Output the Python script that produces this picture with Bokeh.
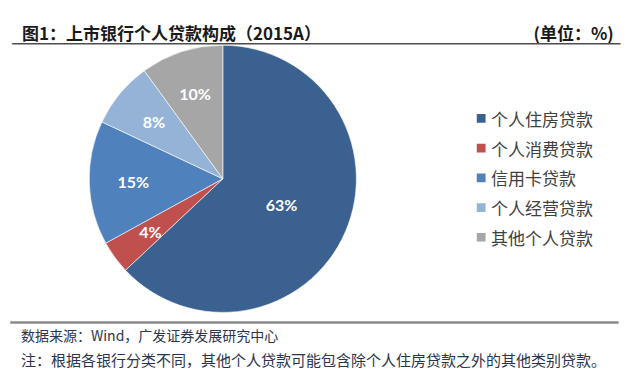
import math
from bokeh.plotting import figure
from bokeh.models import ColumnDataSource, Range1d
from bokeh.core.properties import value
from bokeh.embed import file_html
from bokeh.resources import INLINE

# ---- data ----
categories = ["个人住房贷款", "个人消费贷款", "信用卡贷款", "个人经营贷款", "其他个人贷款"]
shares = [63, 4, 15, 8, 10]
colors = ["#3B6191", "#C0504D", "#4F81BD", "#95B3D7", "#A6A6A6"]
title_text = "图1：上市银行个人贷款构成（2015A）"
unit_text = "(单位：%)"
source_text = "数据来源：Wind，广发证券发展研究中心"
note_text = "注：根据各银行分类不同，其他个人贷款可能包含除个人住房贷款之外的其他类别贷款。"

W, H = 624, 371
RW, RH = 640, 387  # reference layout frame
CJK = "Noto Sans CJK SC"


def Y(ref_y):
    return RH - ref_y


def X(ref_x):
    return ref_x


p = figure(width=W, height=H, output_backend="svg", toolbar_location=None,
           x_range=Range1d(0, RW), y_range=Range1d(0, RH), min_border=0)
p.axis.visible = False
p.grid.visible = False
p.outline_line_color = None
p.background_fill_color = "white"

# ---- pie ----
cx, cy, r = X(228), Y(186), 137
total = float(sum(shares))
starts, ends, lx, ly, labels = [], [], [], [], []
cum = 0.0
for v in shares:
    a0 = cum / total
    cum += v
    a1 = cum / total
    # clockwise from 12 o'clock
    starts.append(math.pi / 2 - a1 * 2 * math.pi)
    ends.append(math.pi / 2 - a0 * 2 * math.pi)
    mid = math.pi / 2 - (a0 + a1) / 2 * 2 * math.pi
    fr = 0.48 if v / total > 0.5 else 0.67
    lx.append(cx + fr * r * math.cos(mid))
    ly.append(cy + fr * r * math.sin(mid) * (RH / H) / (RW / W))
    labels.append(f"{v}%")

src = ColumnDataSource(dict(start=starts, end=ends, color=colors, lx=lx, ly=ly, label=labels))
p.wedge(x=cx, y=cy, radius=r, start_angle="start", end_angle="end",
        fill_color="color", line_color="white", line_width=0.6, source=src)
p.text(x="lx", y="ly", text="label", source=src, text_color="white",
       text_font=value("Lato"), text_font_style="bold", text_font_size="16px",
       text_align="center", text_baseline="middle")

# ---- legend ----
leg_y = [Y(123 + 31 * i) for i in range(len(categories))]
leg = ColumnDataSource(dict(x=[X(493)] * len(categories), y=leg_y, color=colors,
                            tx=[X(503)] * len(categories), label=categories))
p.rect(x="x", y="y", width=9, height=9, fill_color="color", line_color=None, source=leg)
p.text(x="tx", y="y", text="label", source=leg, text_color="#404040",
       text_font=value(CJK), text_font_size="17px", text_baseline="middle")

# ---- header / footer ----
p.text(x=[X(22)], y=[Y(33)], text=[title_text], text_color="#1a1a1a",
       text_font=value(CJK), text_font_style="bold", text_font_size="17px",
       text_baseline="middle")
p.text(x=[X(629)], y=[Y(33)], text=[unit_text], text_color="#1a1a1a",
       text_font=value(CJK), text_font_style="bold", text_font_size="17px",
       text_baseline="middle", text_align="right")
p.line(x=[X(12), X(636)], y=[Y(45), Y(45)], line_color="#4d4d4d", line_width=1.5)
p.line(x=[X(10), X(634)], y=[Y(336), Y(336)], line_color="#8a8a8a", line_width=2.5)
p.text(x=[X(21)], y=[Y(349)], text=[source_text], text_color="#2a3550",
       text_font=value(CJK), text_font_size="14px", text_baseline="middle")
p.text(x=[X(21)], y=[Y(374)], text=[note_text], text_color="#2a3550",
       text_font=value(CJK), text_font_size="15px", text_baseline="middle")

open("out.html", "w").write(file_html(p, INLINE))
